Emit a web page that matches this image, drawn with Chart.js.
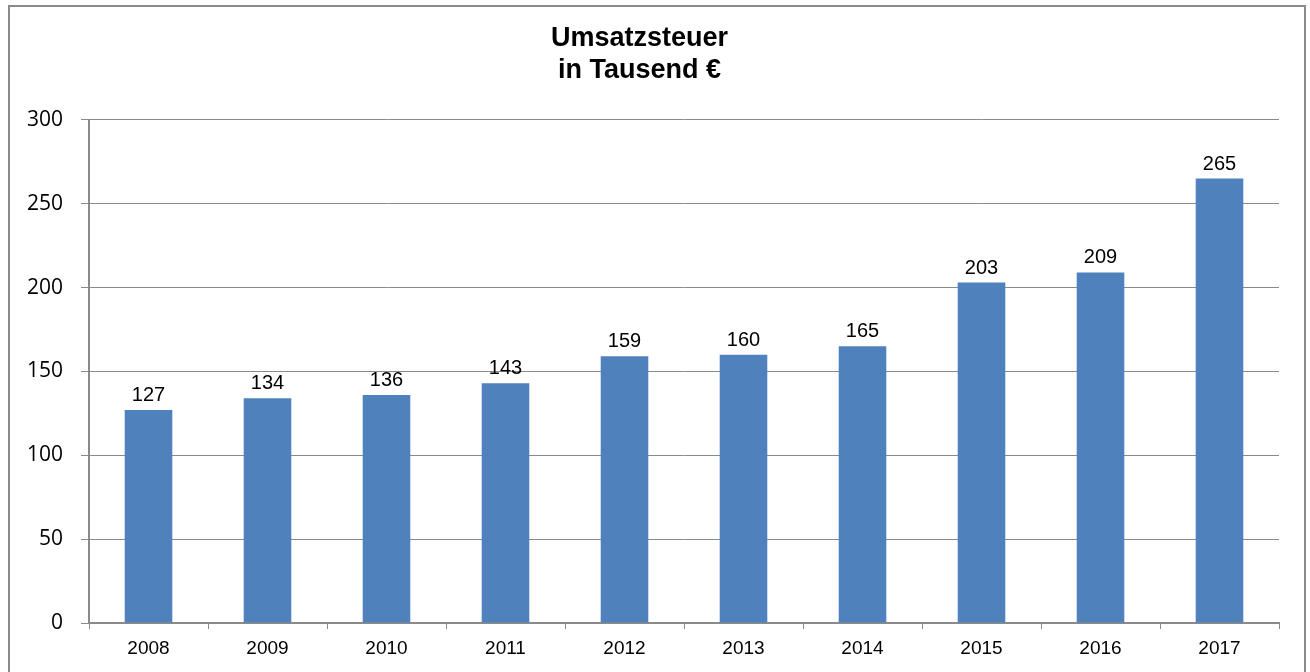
<!DOCTYPE html>
<html>
<head>
<meta charset="utf-8">
<script src="https://cdn.jsdelivr.net/npm/chart.js@4"></script>
<style>
  html, body { margin: 0; padding: 0; background: #fff; overflow: hidden; }
  #wrap { position: absolute; left: 0; top: 0; width: 1310px; height: 672px; }
  #frame { position: absolute; left: 8px; top: 5px; width: 1294px; height: 700px; border: 2px solid #8a8a8a; pointer-events: none; }
</style>
</head>
<body>
<div id="wrap"><canvas id="ustChart" width="1310" height="672"></canvas></div>
<div id="frame"></div>
<script>
const years = ['2008', '2009', '2010', '2011', '2012', '2013', '2014', '2015', '2016', '2017'];
const umsatzsteuer = [127, 134, 136, 143, 159, 160, 165, 203, 209, 265];
const yTicks = [0, 50, 100, 150, 200, 250, 300];

// Werte über die Balken schreiben
const barLabels = {
  id: 'barLabels',
  afterDatasetsDraw(chart) {
    const ctx = chart.ctx;
    const meta = chart.getDatasetMeta(0);
    ctx.save();
    ctx.font = '20px "Liberation Sans", Arial, sans-serif';
    ctx.fillStyle = '#000';
    ctx.textAlign = 'center';
    ctx.textBaseline = 'alphabetic';
    meta.data.forEach((bar, i) => {
      ctx.fillText(String(umsatzsteuer[i]), bar.x, bar.y - 9);
    });
    ctx.restore();
  }
};

new Chart(document.getElementById('ustChart').getContext('2d'), {
  type: 'bar',
  data: {
    labels: years,
    datasets: [{
      data: umsatzsteuer,
      backgroundColor: '#4f81bd',
      barPercentage: 0.4,
      categoryPercentage: 1.0
    }]
  },
  options: {
    responsive: false,
    animation: false,
    layout: { padding: { left: 0, right: 31, top: 0, bottom: 0 } },
    plugins: {
      legend: { display: false },
      tooltip: { enabled: false },
      title: {
        display: true,
        text: ['Umsatzsteuer', 'in Tausend €'],
        color: '#000',
        font: { family: '"Liberation Sans", Arial, sans-serif', size: 27, weight: 'bold', lineHeight: 1.2 },
        padding: { top: 22, bottom: 33 }
      }
    },
    scales: {
      x: {
        grid: { drawOnChartArea: false, drawTicks: true, tickLength: 6, color: '#8a8a8a', offset: true },
        border: { color: '#8a8a8a', width: 2 },
        ticks: { color: '#000', padding: 8, maxRotation: 0, font: { family: '"Liberation Sans", Arial, sans-serif', size: 19 } },
        afterFit(scale) { scale.height = 49; }
      },
      y: {
        min: 0,
        max: 300,
        afterBuildTicks(scale) { scale.ticks = yTicks.map(v => ({ value: v })); },
        grid: { color: '#8a8a8a', tickLength: 8, lineWidth: 1 },
        border: { color: '#8a8a8a', width: 2 },
        ticks: { color: '#000', padding: 18, font: { family: '"Open Sans", "Noto Sans", sans-serif', size: 21 } },
        afterFit(scale) { scale.width = 89; }
      }
    }
  },
  plugins: [barLabels]
});
</script>
</body>
</html>
